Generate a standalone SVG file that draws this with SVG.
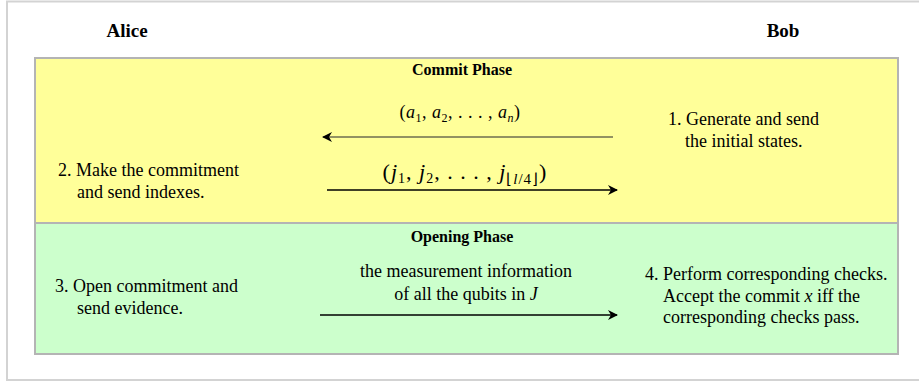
<svg xmlns="http://www.w3.org/2000/svg" width="919" height="381" viewBox="0 0 919 381">
<style>
.t{font-family:"Liberation Serif","Times New Roman",serif;font-size:18px;fill:#000}
.b{font-family:"Liberation Serif","Times New Roman",serif;font-weight:bold;fill:#000}
.m{font-family:"Liberation Serif","Times New Roman",serif;fill:#000}
.i{font-style:italic}
.box{stroke:#b4b4b4;stroke-width:2}
.ar{fill:none;stroke-width:1.5}
</style>
<defs>
<marker id="ahk" viewBox="0 0 10 10" refX="9" refY="5" markerWidth="10" markerHeight="10" markerUnits="userSpaceOnUse" orient="auto">
<path d="M0,0 L10,5 L0,10 L3,5 Z" fill="#000"/>
</marker>
</defs>
<rect x="0" y="0" width="919" height="381" fill="#fff"/>
<rect x="7" y="1.5" width="930" height="378.5" fill="#fff" stroke="#d3d3d3" stroke-width="2"/>
<g id="commit-phase">
<rect class="box" x="35" y="58" width="863" height="165" fill="#ffff99"/>
<text class="b" x="462" y="75" font-size="16" text-anchor="middle">Commit Phase</text>
</g>
<g id="opening-phase">
<rect class="box" x="35" y="223" width="863" height="131" fill="#ccffcc"/>
<text class="b" x="462" y="242" font-size="16" text-anchor="middle">Opening Phase</text>
</g>
<g id="alice">
<text class="b" x="127" y="37" font-size="19" text-anchor="middle">Alice</text>
</g>
<g id="bob">
<text class="b" x="783" y="37" font-size="19" text-anchor="middle">Bob</text>
</g>
<g id="step1">
<text class="t" x="668" y="125">1. Generate and send</text>
<text class="t" x="685" y="147">the initial states.</text>
</g>
<g id="step2">
<text class="t" x="58" y="176">2. Make the commitment</text>
<text class="t" x="77" y="198">and send indexes.</text>
</g>
<g id="step3">
<text class="t" x="55" y="292">3. Open commitment and</text>
<text class="t" x="77" y="314">send evidence.</text>
</g>
<g id="step4">
<text class="t" x="645" y="280" font-size="18.3">4. Perform corresponding checks.</text>
<text class="t" x="663" y="302" font-size="18.3">Accept the commit <tspan class="i">x</tspan> iff the</text>
<text class="t" x="663" y="323" font-size="18.3">corresponding checks pass.</text>
</g>
<g id="connectors">
<line class="ar" x1="613" y1="137" x2="323" y2="137" stroke="#6e6e50" marker-end="url(#ahk)"/>
<line class="ar" x1="327" y1="190" x2="617" y2="190" stroke="#000" marker-end="url(#ahk)"/>
<line class="ar" x1="320" y1="315" x2="617" y2="315" stroke="#000" marker-end="url(#ahk)"/>
<text class="m" x="460" y="118" font-size="18" letter-spacing="0.5" text-anchor="middle">(<tspan class="i">a</tspan><tspan font-size="12" dy="4">1</tspan><tspan dy="-4">, </tspan><tspan class="i">a</tspan><tspan font-size="12" dy="4">2</tspan><tspan dy="-4">, . . . , </tspan><tspan class="i">a</tspan><tspan class="i" font-size="12" dy="4">n</tspan><tspan dy="-4">)</tspan></text>
<text class="m" x="465" y="179" font-size="22" letter-spacing="1" text-anchor="middle">(<tspan class="i">j</tspan><tspan font-size="14" dy="4">1</tspan><tspan dy="-4">, </tspan><tspan class="i">j</tspan><tspan font-size="14" dy="4">2</tspan><tspan dy="-4">, . . . , </tspan><tspan class="i">j</tspan><tspan font-size="15" dy="5">⌊<tspan class="i">l</tspan>/4⌋</tspan><tspan dy="-5">)</tspan></text>
<text class="t" x="466" y="277" text-anchor="middle">the measurement information</text>
<text class="t" x="466" y="300" text-anchor="middle">of all the qubits in <tspan class="i">J</tspan></text>
</g>
</svg>
